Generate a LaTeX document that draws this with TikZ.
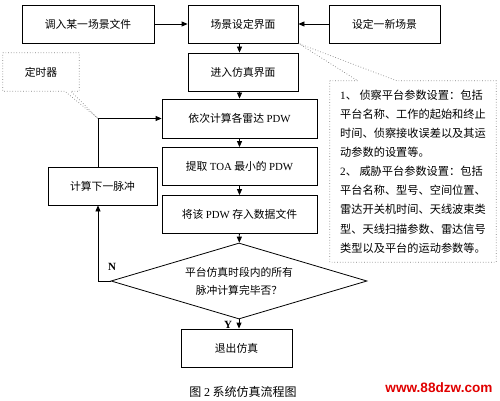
\documentclass[tikz,border=0pt]{standalone}
\usepackage{fontspec}
\setmainfont{Noto Sans CJK SC}
\newfontfamily\lat{Liberation Serif}
\newfontfamily\web{Liberation Sans}
\usetikzlibrary{arrows.meta,shapes.geometric,calc}
\definecolor{wmred}{HTML}{E00000}
\begin{document}
\begin{tikzpicture}[x=1pt,y=-1pt,
  box/.style={draw, line width=0.8pt, minimum height=38pt, inner sep=0pt, font=\fontsize{10.8}{13}\selectfont},
  notebox/.style={inner sep=0pt},
  calloutline/.style={draw=gray, dotted, line width=0.7pt},
  flow/.style={line width=0.8pt, -{Triangle[length=6pt,width=5pt]}},
  plain/.style={line width=0.8pt},
  lbl/.style={font=\lat\bfseries\fontsize{11}{13}\selectfont}
]
\useasboundingbox (0,0) rectangle (500,401);

% boxes
\node[box, minimum width=132pt] (load) at (88,24) {调入某一场景文件};
\node[box, minimum width=110pt] (scene) at (243,24) {场景设定界面};
\node[box, minimum width=111pt] (new) at (384.5,24) {设定一新场景};
\node[box, minimum width=110pt] (enter) at (243,72) {进入仿真界面};
\node[box, minimum width=155pt, minimum height=39pt] (calc) at (239.5,118.5) {依次计算各雷达 {\lat PDW}};
\node[box, minimum width=155pt] (toa) at (239.5,166.5) {提取 {\lat TOA} 最小的 {\lat PDW}};
\node[box, minimum width=155pt] (save) at (239.5,214.5) {将该 {\lat PDW} 存入数据文件};
\node[draw, line width=0.8pt, diamond, minimum width=256pt, minimum height=76pt, inner sep=0pt, aspect=3.37,
      align=center, font=\fontsize{10.8}{18}\selectfont] (dec) at (239,281) {平台仿真时段内的所有\\脉冲计算完毕否？};
\node[box, minimum width=111pt] (exit) at (236.5,348) {退出仿真};
\node[box, minimum width=109pt] (next) at (102.5,186) {计算下一脉冲};

% callouts
\node[notebox, minimum width=76pt, minimum height=38pt, font=\fontsize{10.8}{13}\selectfont] (timer) at (41,72) {定时器};
\node[notebox, minimum width=166pt, minimum height=181pt, align=left, font=\fontsize{11.2}{19.1}\selectfont] (note) at (413,171.5)
 {{\lat 1}、 侦察平台参数设置：包括\\
  平台名称、工作的起始和终止\\
  时间、侦察接收误差以及其运\\
  动参数的设置等。\\
  {\lat 2}、 威胁平台参数设置：包括\\
  平台名称、型号、空间位置、\\
  雷达开关机时间、天线波束类\\
  型、天线扫描参数、雷达信号\\
  类型以及平台的运动参数等。};

\coordinate (nl) at (98,281);
\coordinate (nt) at (98,118.5);

\draw[calloutline] (timer.north west) -- (timer.north east) -- (timer.south east)
  -- ($(timer.south west)+(68,0)$) -- (nt) -- ($(timer.south west)+(62,0)$) -- (timer.south west) -- cycle;
\draw[calloutline] (note.north west) -- ($(note.north west)+(28,0)$) -- (scene.south east)
  -- ($(note.north west)+(67,0)$) -- (note.north east) -- (note.south east) -- (note.south west) -- cycle;

% connectors
\draw[flow] (load) -- (scene);
\draw[flow] (new) -- (scene);
\draw[flow] (scene.south -| calc) -- (enter.north -| calc);
\draw[flow] (enter.south -| calc) -- (calc);
\draw[flow] (calc) -- (toa);
\draw[flow] (toa) -- (save);
\draw[flow] (save) -- (dec);
\draw[flow] (dec.south) -- (exit.north -| dec.south);
\draw[plain] (dec.west) -- (nl);
\draw[flow] (nl) -- (nl |- next.south);
\draw[plain] (nl |- next.north) -- (nt);
\draw[flow] (nt) -- (calc.west);

\node[lbl] (nlab) at (112,267) {N};
\node[lbl] (ylab) at (228,325) {Y};

% caption and watermark
\node[font=\fontsize{12}{14}\selectfont] (cap) at (243,392) {图 {\lat 2} 系统仿真流程图};
\node[font=\web\bfseries\fontsize{13.6}{15}\selectfont, text=wmred] (wm) at (439,388) {www.88dzw.com};
\end{tikzpicture}
\end{document}
